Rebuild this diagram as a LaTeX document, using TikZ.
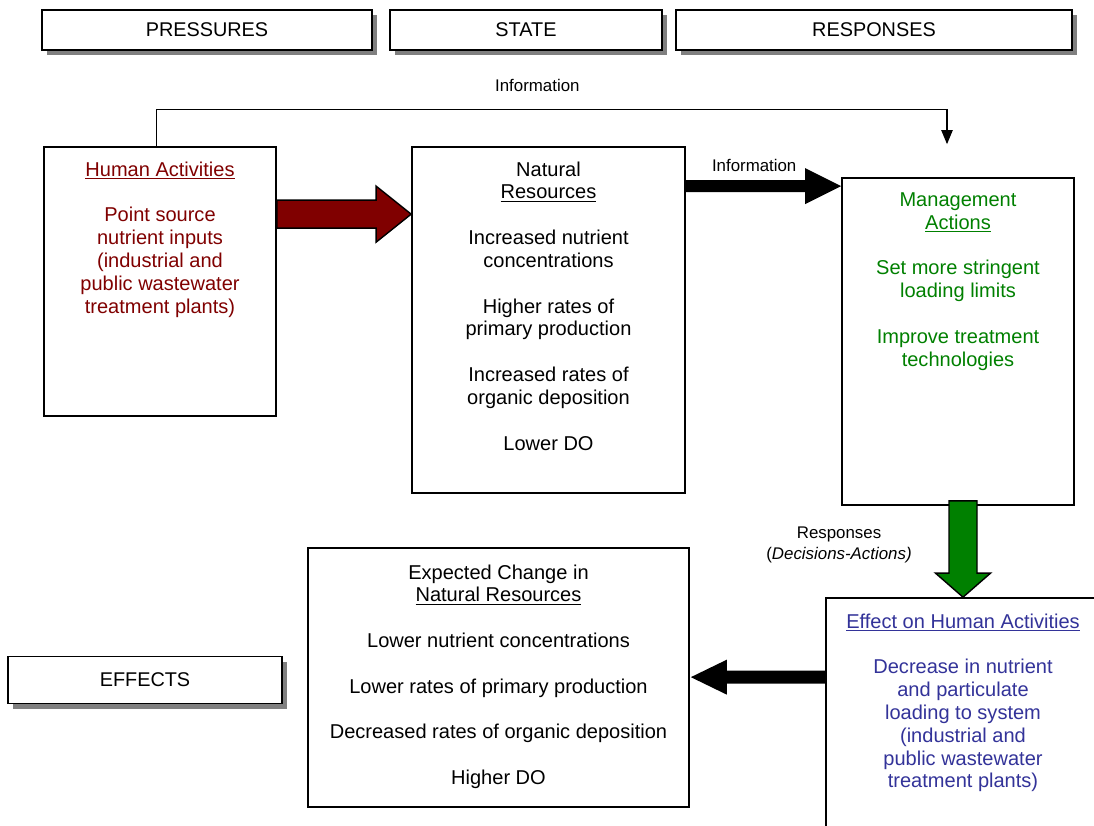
\documentclass[tikz,border=0pt]{standalone}
\usepackage{fontspec}
\setmainfont{Liberation Sans}
\usetikzlibrary{positioning,calc,shadows,arrows.meta}

\definecolor{darkred}{HTML}{800000}
\definecolor{leafgreen}{HTML}{008000}
\definecolor{inkblue}{HTML}{333399}

\begin{document}
\begin{tikzpicture}[x=0.02cm,y=-0.02cm,
    head/.style={draw,line width=1.1pt,fill=white,minimum height=0.8cm,
      drop shadow={shadow xshift=0.1cm,shadow yshift=-0.1cm,fill=black!50,opacity=1},
      font=\fontsize{11.3}{13}\selectfont},
    box/.style={draw,line width=1pt,fill=white},
    body/.style={align=center,anchor=north,inner sep=0pt,
      font=\fontsize{11.4}{13}\selectfont},
    lbl/.style={align=center,font=\fontsize{9.6}{11.5}\selectfont},
    blockarrow/.style={draw=black,line width=0.8pt}]

  \clip (0,0) rectangle (1094,825);

  % column heads
  \node[head, minimum width=6.6cm]  (pres)  at (207,30) {PRESSURES};
  \node[head, minimum width=5.44cm] (state) at (526,30) {STATE};
  \node[head, minimum width=7.92cm] (resp)  at (874,30) {RESPONSES};
  \node[head, minimum width=5.48cm, minimum height=0.94cm] (eff) at (145,680) {EFFECTS};

  % boxes
  \node[box, minimum width=4.64cm, minimum height=5.38cm] (hum)  at (160,281.5) {};
  \node[box, minimum width=5.46cm, minimum height=6.92cm] (nat)  at (548.5,320) {};
  \node[box, minimum width=4.64cm, minimum height=6.54cm] (mgmt) at (958,341.5) {};
  \node[box, minimum width=7.62cm, minimum height=5.18cm] (exp)  at (498.5,677.5) {};
  \node[box, minimum width=5.48cm, minimum height=4.84cm] (effh) at (963,719) {};

  \node[body, text=darkred, below=0.3cm of hum.north] (humtxt)
    {\underline{Human Activities}\\[13pt]
     Point source\\ nutrient inputs\\ (industrial and\\ public wastewater\\ treatment plants)};
  \node[body, below=0.3cm of nat.north] (nattxt)
    {Natural\\ \underline{Resources}\\[13pt]
     Increased nutrient\\ concentrations\\[13pt]
     Higher rates of\\ primary production\\[13pt]
     Increased rates of\\ organic deposition\\[13pt]
     Lower DO};
  \node[body, text=leafgreen, below=0.3cm of mgmt.north] (mgmttxt)
    {Management\\ \underline{Actions}\\[13pt]
     Set more stringent\\ loading limits\\[13pt]
     Improve treatment\\ technologies};
  \node[body, below=0.34cm of exp.north] (exptxt)
    {Expected Change in\\ \underline{Natural Resources}\\[13pt]
     Lower nutrient concentrations\\[13pt]
     Lower rates of primary production\\[13pt]
     Decreased rates of organic deposition\\[13pt]
     Higher DO};
  \node[body, text=inkblue, below=0.32cm of effh.north] (effhtxt)
    {\underline{Effect on Human Activities}\\[13pt]
     Decrease in nutrient\\ and particulate\\ loading to system\\
     (industrial and\\ public wastewater\\ treatment plants)};

  % pressures -> state
  \coordinate (r1) at ($(hum.north east)+(0,68)$);
  \coordinate (r2) at ($(nat.north west)+(0,68)$);
  \filldraw[blockarrow, fill=darkred] ($(r1)+(0,-14)$) -- ($(r2)+(-35,-14)$)
    -- ($(r2)+(-35,-28)$) -- (r2) -- ($(r2)+(-35,28)$) -- ($(r2)+(-35,14)$)
    -- ($(r1)+(0,14)$) -- cycle;

  % state -> responses
  \coordinate (b1) at ($(nat.north east)+(0,40)$);
  \coordinate (b2) at ($(mgmt.north west)+(0,9)$);
  \fill ($(b1)+(0,-6)$) -- ($(b2)+(-36,-6)$) -- ($(b2)+(-36,-18)$) -- (b2)
    -- ($(b2)+(-36,18)$) -- ($(b2)+(-36,6)$) -- ($(b1)+(0,6)$) -- cycle;
  \node[lbl] (info2) at ($(b1)!0.44!(b2)+(0,-21)$) {Information};

  % responses -> effect on human activities
  \coordinate (g1) at ($(mgmt.south)+(5,-5)$);
  \coordinate (g2) at (effh.north);
  \filldraw[blockarrow, fill=leafgreen] ($(g1)+(-14,0)$) -- ($(g2)+(-14,-24)$)
    -- ($(g2)+(-27.5,-24)$) -- (g2) -- ($(g2)+(27.5,-24)$) -- ($(g2)+(14,-24)$)
    -- ($(g1)+(14,0)$) -- cycle;
  \node[lbl] (resplbl) at ($(g1)+(-124,44)$) {Responses\\(\textit{Decisions-Actions)}};

  % effect on human activities -> expected change
  \coordinate (k1) at ($(effh.north west)+(0,80)$);
  \coordinate (k2) at ($(exp.north east)+(1,130)$);
  \fill ($(k1)+(0,-6.5)$) -- ($(k2)+(36,-6.5)$) -- ($(k2)+(36,-17.5)$) -- (k2)
    -- ($(k2)+(36,17.5)$) -- ($(k2)+(36,6.5)$) -- ($(k1)+(0,6.5)$) -- cycle;

  % information loop
  \coordinate (infoend) at ($(mgmt.north)+(-11,-33)$);
  \draw[line width=0.6pt,-{Triangle[length=8pt,width=6.5pt]}]
    ($(hum.north west)+(113,0)$) -- ++(0,-37)
    -| node[lbl,pos=0.241,yshift=0.48cm] (info1) {Information} (infoend);

\end{tikzpicture}
\end{document}
